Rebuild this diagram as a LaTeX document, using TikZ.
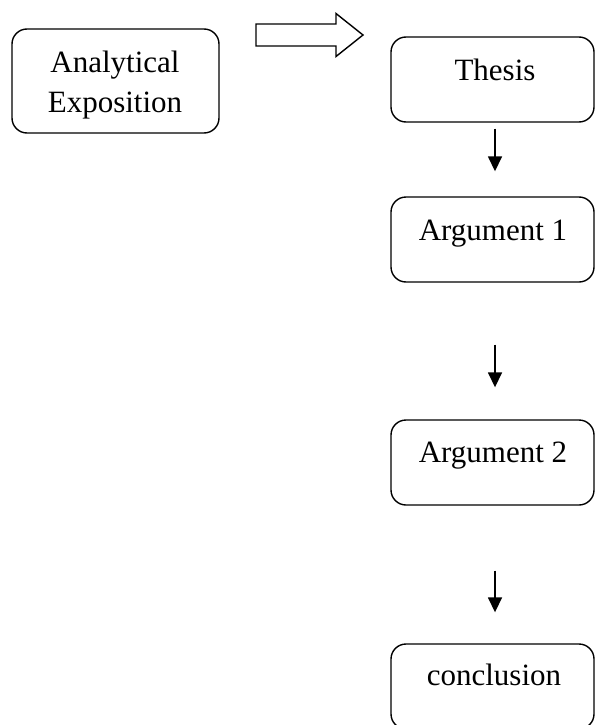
\documentclass[tikz,border=0pt]{standalone}
\usepackage{fontspec}
\setmainfont{Liberation Serif}
\usetikzlibrary{arrows.meta}
\begin{document}
\begin{tikzpicture}[x=1pt,y=-1pt,
  box/.style={draw, line width=1.4pt, rounded corners=15pt, inner sep=0pt},
  lbl/.style={anchor=base, inner sep=0pt, font=\fontsize{31}{38}\selectfont},
  flow/.style={line width=1.6pt, -{Triangle[length=15pt,width=14pt]}}]
\clip (0,0) rectangle (595,725);
% boxes
\node[box, minimum width=207pt, minimum height=104pt] (ae) at (115.5,81) {};
\node[box, minimum width=203pt, minimum height=85pt] (thesis) at (492.5,79.5) {};
\node[box, minimum width=203pt, minimum height=85pt] (arg1) at (492.5,239.5) {};
\node[box, minimum width=203pt, minimum height=85pt] (arg2) at (492.5,462.5) {};
\node[box, minimum width=203pt, minimum height=85pt] (concl) at (492.5,686.5) {};
% texts
\node[lbl] (aet1) at (115,73) {Analytical};
\node[lbl] (aet2) at (115,112) {Exposition};
\node[lbl] (tt) at (495,80) {Thesis};
\node[lbl] (a1t) at (493,240) {Argument 1};
\node[lbl] (a2t) at (493,462) {Argument 2};
\node[lbl] (ct) at (494,685) {conclusion};
% block arrow
\draw[line width=1.4pt, line join=miter] (256,24) -- (336,24) -- (336,13.5) -- (363,35) -- (336,56.5) -- (336,46) -- (256,46) -- cycle;
% flow arrows
\draw[flow, shorten <=6pt, shorten >=25pt] ([xshift=2.5pt]thesis.south) -- ([xshift=2.5pt]arg1.north);
\draw[flow, shorten <=62pt, shorten >=32pt] ([xshift=2.5pt]arg1.south) -- ([xshift=2.5pt]arg2.north);
\draw[flow, shorten <=65pt, shorten >=31pt] ([xshift=2.5pt]arg2.south) -- ([xshift=2.5pt]concl.north);
\end{tikzpicture}
\end{document}
